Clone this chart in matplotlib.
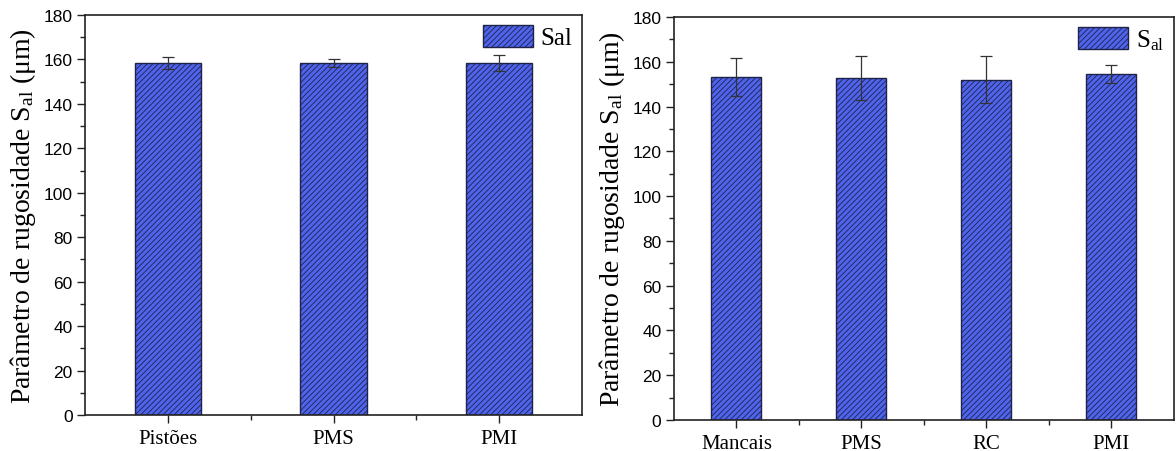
import matplotlib
matplotlib.use("Agg")
import matplotlib.pyplot as plt
from matplotlib.ticker import MultipleLocator, FixedLocator

plt.rcParams["hatch.linewidth"] = 0.6
plt.rcParams["hatch.color"] = "#26307a"
plt.rcParams["mathtext.fontset"] = "custom"
plt.rcParams["mathtext.rm"] = "Liberation Serif"
plt.rcParams["mathtext.it"] = "Liberation Serif:italic"

# Left panel: pistons and rings
left_cats = ["Pistões", "PMS", "PMI"]
left_vals = [158.3, 158.3, 158.3]
left_errs = [2.8, 1.7, 3.6]

# Right panel: bearings and others
right_cats = ["Mancais", "PMS", "RC", "PMI"]
right_vals = [153.2, 152.8, 152.0, 154.7]
right_errs = [8.5, 9.8, 10.5, 4.0]

y_ticks = [0, 20, 40, 60, 80, 100, 120, 140, 160, 180]

bar_color = "#4f63ec"
edge_color = "#1e2347"
serif = "Liberation Serif"
sans = "Liberation Sans"

fig = plt.figure(figsize=(11.76, 4.52), dpi=100)
ax1 = fig.add_axes([0.0723, 0.0796, 0.4226, 0.885])
ax2 = fig.add_axes([0.5731, 0.0686, 0.4252, 0.8916])


def draw(ax, cats, vals, errs, legend_label):
    x = list(range(1, len(cats) + 1))
    ax.bar(x, vals, width=0.4, color=bar_color, edgecolor=edge_color,
           linewidth=1.0, hatch="//////", label=legend_label, zorder=2)
    ax.errorbar(x, vals, yerr=errs, fmt="none", ecolor="#333333",
                elinewidth=0.9, capsize=4, capthick=0.9, zorder=3)
    ax.set_xlim(0.5, len(cats) + 0.5)
    ax.set_ylim(0, 180)
    ax.yaxis.set_major_locator(FixedLocator(y_ticks))
    ax.yaxis.set_minor_locator(MultipleLocator(10))
    ax.xaxis.set_major_locator(FixedLocator(x))
    ax.xaxis.set_minor_locator(FixedLocator([i + 0.5 for i in x[:-1]]))
    ax.set_xticklabels(cats, fontfamily=serif, fontsize=15)
    for lbl in ax.get_yticklabels():
        lbl.set_fontfamily(sans)
        lbl.set_fontsize(12.5)
    ax.tick_params(which="both", direction="out", top=False, right=False,
                   color="#222222", width=1.0)
    ax.tick_params(which="major", length=6, pad=3)
    ax.tick_params(which="minor", length=3.5)
    ax.tick_params(axis="x", which="major", pad=4)
    for s in ax.spines.values():
        s.set_linewidth(1.2)
        s.set_color("#222222")
    ax.set_ylabel(r"Parâmetro de rugosidade S$_{\rm al}$ (μm)",
                  fontfamily=serif, fontsize=20, labelpad=4)
    ax.legend(loc="upper right", frameon=False, handlelength=2.0,
              handleheight=0.95, handletextpad=0.3, borderaxespad=0.15,
              borderpad=0.25, prop={"family": serif, "size": 18})


draw(ax1, left_cats, left_vals, left_errs, "Sal")
draw(ax2, right_cats, right_vals, right_errs, r"S$_{\rm al}$")

fig.savefig("out.png", dpi=100)
